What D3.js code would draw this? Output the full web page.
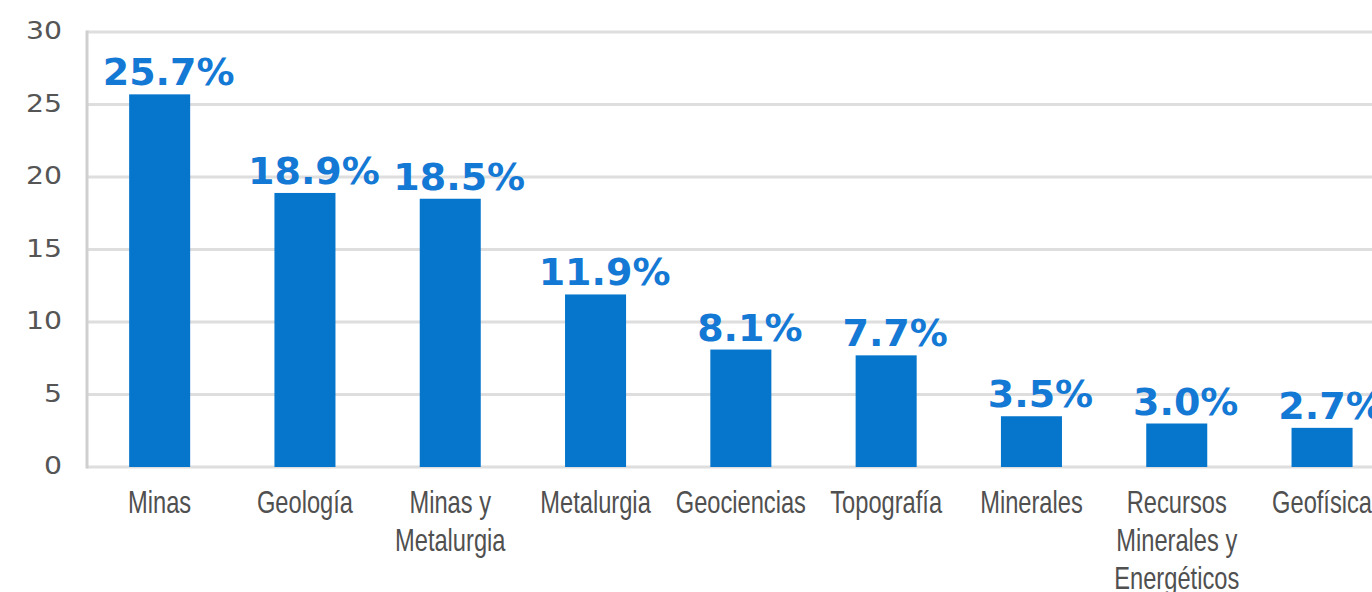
<!DOCTYPE html>
<html>
<head>
<meta charset="utf-8">
<script src="https://cdn.jsdelivr.net/npm/d3@7"></script>
<style>
  html, body { margin: 0; padding: 0; background: #fff; overflow: hidden; }
</style>
</head>
<body>
<div id="chart"></div>
<script>
/**
 * DATA
 * */
const categories = [
  ["Minas"],
  ["Geología"],
  ["Minas y", "Metalurgia"],
  ["Metalurgia"],
  ["Geociencias"],
  ["Topografía"],
  ["Minerales"],
  ["Recursos", "Minerales y", "Energéticos"],
  ["Geofísica"]
];
const values = [25.7, 18.9, 18.5, 11.9, 8.1, 7.7, 3.5, 3.0, 2.7];
const yTicks = [0, 5, 10, 15, 20, 25, 30];

/**
 * CONSTANTS
 * */
const width = 1372,
  height = 592,
  margin = { top: 32, left: 87, bottom: 125 };

// category labels in the picture use a narrow face
const narrow = 0.74;

const svg = d3.select("#chart")
  .append("svg")
  .attr("width", width)
  .attr("height", height);

const keys = categories.map(d => d.join(" "));

// chart is cut off on the right, so the band range runs past the edge
const x = d3.scaleBand()
  .domain(keys)
  .range([margin.left, margin.left + 9 * 145.3])
  .paddingInner(0.58)
  .paddingOuter(0.29);

const y = d3.scaleLinear()
  .domain([0, 30])
  .range([height - margin.bottom, margin.top]);

// gridlines
svg.append("g")
  .selectAll("line")
  .data(yTicks)
  .join("line")
  .attr("x1", margin.left)
  .attr("x2", width)
  .attr("y1", d => y(d))
  .attr("y2", d => y(d))
  .attr("stroke", "#dedede")
  .attr("stroke-width", 3);

// y axis line
svg.append("line")
  .attr("x1", margin.left)
  .attr("x2", margin.left)
  .attr("y1", y(30) - 1.5)
  .attr("y2", y(0) + 1.5)
  .attr("stroke", "#cfcfcf")
  .attr("stroke-width", 3);

// y tick labels
svg.append("g")
  .selectAll("text")
  .data(yTicks)
  .join("text")
  .attr("transform", d => `translate(62, ${y(d) - 1}) scale(1.18, 1)`)
  .attr("text-anchor", "end")
  .attr("dy", "0.35em")
  .attr("font-family", "DejaVu Sans, sans-serif")
  .attr("font-size", 24)
  .attr("fill", "#555")
  .text(d => d);

// bars
svg.selectAll(".bar")
  .data(values)
  .join("rect")
  .attr("class", "bar")
  .attr("x", (d, i) => x(keys[i]))
  .attr("width", x.bandwidth())
  .attr("y", d => y(d))
  .attr("height", d => y(0) - y(d))
  .attr("fill", "#0676cc");

// value labels
svg.selectAll(".val")
  .data(values)
  .join("text")
  .attr("class", "val")
  .attr("x", (d, i) => x(keys[i]) + x.bandwidth() / 2 + 9)
  .attr("y", d => y(d) - 9)
  .attr("text-anchor", "middle")
  .attr("font-family", "DejaVu Sans, sans-serif")
  .attr("font-weight", "bold")
  .attr("font-size", 38)
  .attr("fill", "#1479d4")
  .text(d => d.toFixed(1) + "%");

// category labels
const cat = svg.selectAll(".cat")
  .data(categories)
  .join("text")
  .attr("class", "cat")
  .attr("transform", (d, i) =>
    `translate(${x(keys[i]) + x.bandwidth() / 2}, ${y(0) + 46}) scale(${narrow}, 1)`)
  .attr("text-anchor", "middle")
  .attr("font-family", "Liberation Sans Narrow, Liberation Sans, sans-serif")
  .attr("font-size", 32)
  .attr("fill", "#505050");

cat.selectAll("tspan")
  .data(d => d)
  .join("tspan")
  .attr("x", 0)
  .attr("dy", (d, i) => i === 0 ? 0 : 38)
  .text(d => d);
</script>
</body>
</html>
